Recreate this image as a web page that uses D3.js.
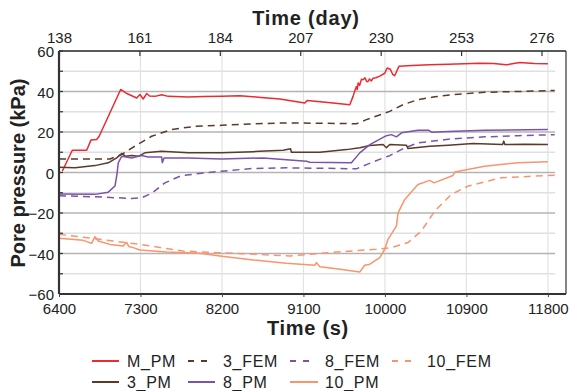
<!DOCTYPE html>
<html><head><meta charset="utf-8">
<script src="https://cdn.jsdelivr.net/npm/d3@7"></script>
<style>body{margin:0;background:#fff}svg{display:block}text{font-family:"Liberation Sans",Arial,sans-serif;fill:#222}</style>
</head><body><svg id="c" width="571" height="391"></svg>
<script>
// ---- data ----
const bottomTicks = [6400, 7300, 8200, 9100, 10000, 10900, 11800];
const topTicks = [138, 161, 184, 207, 230, 253, 276];
const yTicks = [-60, -40, -20, 0, 20, 40, 60];
const yMinorTicks = [-50, -30, -10, 10, 30, 50];

const M_PM = [[6436,0.6],[6547,11],[6706,11],[6753,16],[6816,16.3],[6845,18],[7081,41],[7150,39],[7258,36.8],[7294,38.5],[7330,36.3],[7368,39],[7400,37.8],[7460,37.6],[7534,38.4],[7607,37.6],[7827,37.3],[8000,37.5],[8196,37.6],[8398,37.9],[8600,37.2],[8839,36.3],[9115,34.3],[9141,35.6],[9400,34.4],[9612,33.5],[9648,37.6],[9665,40],[9685,42.5],[9695,41],[9704,44.2],[9720,43],[9740,46],[9759,45.8],[9780,46.8],[9800,44.8],[9814,45],[9830,46.2],[9850,45.2],[9869,46.6],[9900,46.8],[9943,47.6],[9998,49],[10024,51.6],[10060,51],[10085,48.5],[10108,47.8],[10130,50],[10156,52.5],[10300,52.8],[10495,53.2],[10700,53.5],[11047,54],[11200,53.8],[11341,53.2],[11488,54.3],[11650,53.8],[11800,53.7]];
const FEM_3 = [[6400,6.7],[6600,6.7],[6963,6.7],[7092,8.9],[7239,13],[7423,17.9],[7644,21.2],[7901,22.8],[8196,23.3],[8550,24],[8912,24.5],[9300,24.3],[9685,24.1],[9796,26.1],[10053,30.2],[10200,33.5],[10365,36],[10550,37.4],[10734,38.4],[11101,39.6],[11469,40],[11875,40.5]];
const PM_3 = [[6400,2.6],[6577,2.3],[6797,3.4],[6944,4.8],[7037,7.2],[7092,9.4],[7136,8],[7202,8.4],[7275,8],[7349,9.7],[7534,10.5],[7827,9.7],[8196,9.7],[8545,10.3],[8876,11],[8957,11.7],[8968,10],[9281,10],[9576,11.3],[9722,12.2],[9833,13.3],[9980,13.8],[10017,12.2],[10053,13.8],[10237,13.5],[10255,11.8],[10495,13],[10700,13.5],[10973,14.3],[11300,13.8],[11312,15.5],[11325,13.8],[11550,14],[11800,13.8]];
const PM_8 = [[6400,-10.6],[6797,-10.8],[6944,-9.7],[7018,-6.7],[7040,-1],[7055,4.8],[7092,8],[7202,7.2],[7312,8.4],[7386,7.7],[7534,7.7],[7541,4.8],[7560,7.2],[7827,7.2],[8196,6.7],[8655,7.2],[9134,5.6],[9170,5.1],[9630,4.8],[9722,9.7],[9833,13.8],[10017,18.2],[10072,18.7],[10127,17.6],[10183,19.6],[10365,20.9],[10480,20.9],[10517,19.9],[10700,20.3],[11101,20.9],[11800,21.2]];
const FEM_8 = [[6400,-11.5],[6800,-12],[7202,-12.8],[7312,-12.5],[7423,-10.3],[7570,-5.1],[7754,-1.5],[8011,-0.2],[8232,0.8],[8545,2],[8912,2.3],[9300,2.1],[9685,1.8],[9796,3.9],[9980,7.2],[10053,8.3],[10219,12.2],[10365,14.6],[10734,16.6],[11101,17.6],[11469,18.2],[11875,18.7]];
const PM_10 = [[6400,-32.5],[6668,-33.5],[6760,-35],[6797,-31.7],[6834,-33.8],[6963,-35.5],[7110,-36.3],[7147,-34.5],[7170,-36.5],[7220,-37.1],[7294,-38.3],[7588,-39.3],[7956,-39.9],[8177,-41.2],[8545,-43.2],[8912,-44.8],[9225,-45.8],[9244,-44.5],[9281,-46.5],[9465,-47.5],[9722,-49.1],[9777,-45.8],[9833,-45.3],[9943,-42],[9998,-37.9],[10034,-33],[10127,-26.5],[10145,-19.9],[10219,-13.3],[10365,-5.9],[10495,-3.9],[10542,-5.1],[10752,-1.5],[10771,0.2],[11101,3.1],[11469,4.8],[11800,5.3]];
const FEM_10 = [[6400,-30.5],[6852,-33],[7294,-35.5],[7772,-38.8],[8324,-39.9],[8950,-41.2],[9465,-39.3],[9906,-37.9],[10072,-37.1],[10255,-34.6],[10402,-28.9],[10549,-19.1],[10734,-10.8],[10918,-6.7],[11286,-2.6],[11875,-1.3]];

const series = [
  {name:"M_PM", data:M_PM, color:"#ec2a30", dash:null},
  {name:"3_FEM", data:FEM_3, color:"#5b3a28", dash:"7,5"},
  {name:"8_FEM", data:FEM_8, color:"#7c52aa", dash:"7,5"},
  {name:"10_FEM", data:FEM_10, color:"#f7956d", dash:"7,5"},
  {name:"3_PM", data:PM_3, color:"#5b3a28", dash:null},
  {name:"8_PM", data:PM_8, color:"#7c52aa", dash:null},
  {name:"10_PM", data:PM_10, color:"#f7956d", dash:null}
];

// ---- layout ----
const L = 59, R = 566, T = 51, B = 294;
const svg = d3.select("#c");
const x = d3.scaleLinear().domain([6400, 12000]).range([L, R]);
const xd = d3.scaleLinear().domain([138, 283]).range([L, R]);
const y = d3.scaleLinear().domain([-60, 60]).range([B, T]);
const gridRight = x(11880);

// grid
const g = svg.append("g");
g.selectAll(".vg").data(bottomTicks.slice(1)).enter().append("line")
  .attr("x1", d=>x(d)).attr("x2", d=>x(d)).attr("y1", T).attr("y2", B)
  .attr("stroke", "#e2e2e2").attr("stroke-width", 1.2);
g.selectAll(".hm").data(yMinorTicks).enter().append("line")
  .attr("x1", L).attr("x2", gridRight).attr("y1", d=>y(d)).attr("y2", d=>y(d))
  .attr("stroke", "#e0e0e0").attr("stroke-width", 1.5);
g.selectAll(".hM").data(yTicks.filter(d=>d>-60 && d<60)).enter().append("line")
  .attr("x1", L).attr("x2", gridRight).attr("y1", d=>y(d)).attr("y2", d=>y(d))
  .attr("stroke", "#b4b4b4").attr("stroke-width", 1.3);

// series
const line = d3.line().x(d=>x(d[0])).y(d=>y(d[1]));
series.forEach(s=>{
  svg.append("path").datum(s.data).attr("d", line)
    .attr("fill","none").attr("stroke", s.color).attr("stroke-width", 1.5)
    .attr("stroke-dasharray", s.dash).attr("stroke-linejoin","round");
});

// frame
svg.append("line").attr("x1",L).attr("x2",R).attr("y1",T).attr("y2",T).attr("stroke","#222").attr("stroke-width",1.5);
svg.append("line").attr("x1",R).attr("x2",R).attr("y1",T).attr("y2",B).attr("stroke","#333").attr("stroke-width",1.2);
svg.append("line").attr("x1",L).attr("x2",R).attr("y1",B).attr("y2",B).attr("stroke","#333").attr("stroke-width",2);
svg.append("line").attr("x1",L).attr("x2",L).attr("y1",T).attr("y2",B).attr("stroke","#333").attr("stroke-width",2.2);

// axes
const yAxis = d3.axisLeft(y).tickValues(yTicks).tickSize(0).tickPadding(5);
const ya = svg.append("g").attr("transform",`translate(${L},0)`).call(yAxis);
ya.select(".domain").remove();
ya.selectAll("text").style("font-size","15px").attr("fill","#222").attr("dy","0.38em");
svg.selectAll(".ytk").data(yTicks.concat(yMinorTicks)).enter().append("line")
  .attr("x1",L).attr("x2",L+4).attr("y1",d=>y(d)).attr("y2",d=>y(d)).attr("stroke","#333").attr("stroke-width",1.2);

const xAxis = d3.axisBottom(x).tickValues(bottomTicks).tickSize(3).tickPadding(6).tickFormat(d3.format("d"));
const xa = svg.append("g").attr("transform",`translate(0,${B})`).call(xAxis);
xa.select(".domain").remove();
xa.selectAll("line").attr("stroke","#444");
xa.selectAll("text").style("font-size","15px").attr("fill","#222");

const tAxis = d3.axisTop(xd).tickValues(topTicks).tickSize(-5).tickPadding(8).tickFormat(d3.format("d"));
const ta = svg.append("g").attr("transform",`translate(0,${T})`).call(tAxis);
ta.select(".domain").remove();
ta.selectAll("line").attr("stroke","#333").attr("stroke-width",1.2);
ta.selectAll("text").style("font-size","15px").attr("fill","#222");

// titles
svg.append("text").attr("x",306).attr("y",25).attr("text-anchor","middle")
  .style("font-size","20px").style("font-weight","bold").style("letter-spacing","0.8px").text("Time (day)");
svg.append("text").attr("x",308).attr("y",334.5).attr("text-anchor","middle")
  .style("font-size","20px").style("font-weight","bold").style("letter-spacing","0.7px").text("Time (s)");
svg.append("text").attr("transform","translate(25,173) rotate(-90)").attr("text-anchor","middle")
  .style("font-size","20px").style("font-weight","bold").text("Pore pressure (kPa)");

// legend
const legendPos = [
  {i:0, lx:92, lw:27, tx:127, row:0},
  {i:1, lx:188, lw:19, tx:223, row:0},
  {i:2, lx:290, lw:20, tx:325, row:0},
  {i:3, lx:392, lw:20, tx:427, row:0},
  {i:4, lx:92, lw:27, tx:127, row:1},
  {i:5, lx:188, lw:27, tx:223, row:1},
  {i:6, lx:290, lw:28, tx:325, row:1}
];
const rowY = [361, 382];
legendPos.forEach(p=>{
  const s = series[p.i];
  svg.append("line").attr("x1",p.lx).attr("x2",p.lx+p.lw).attr("y1",rowY[p.row]).attr("y2",rowY[p.row])
    .attr("stroke",s.color).attr("stroke-width",2).attr("stroke-dasharray", s.dash ? "6,7" : null);
  svg.append("text").attr("x",p.tx).attr("y",rowY[p.row]+5.8).style("font-size","16px")
    .style("letter-spacing","0.7px").text(s.name);
});
</script></body></html>
